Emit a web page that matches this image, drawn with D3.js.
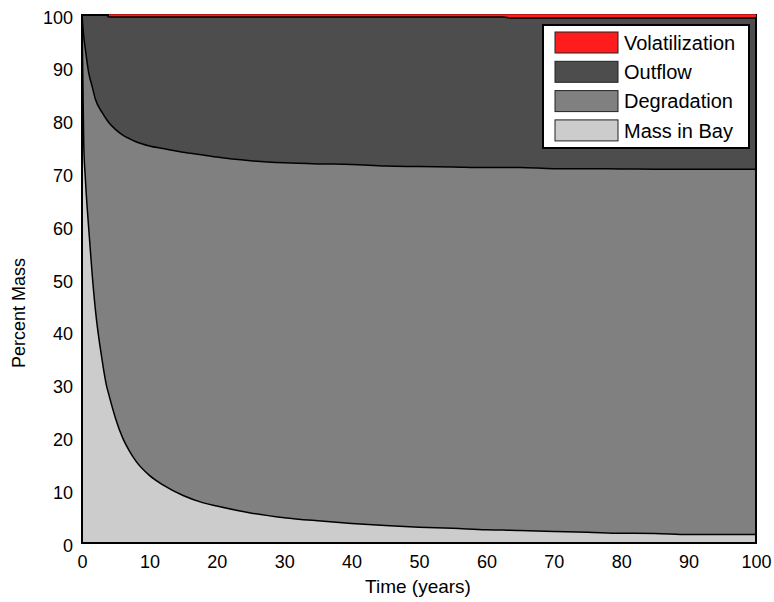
<!DOCTYPE html>
<html>
<head>
<meta charset="utf-8">
<script src="https://cdn.jsdelivr.net/npm/d3@7"></script>
<style>
  html, body { margin: 0; padding: 0; background: #fff; }
  text { font-family: "Liberation Sans", Arial, sans-serif; fill: #000; }
</style>
</head>
<body>
<svg id="chart" width="774" height="602"></svg>
<script>
// ---- data (percent of mass) ----
const years = [0, 0.25, 0.5, 1, 1.5, 2, 3, 3.6, 4, 5, 6, 7, 8, 10, 12, 15, 18, 20, 25, 30, 35, 40, 45, 50, 55, 60, 62.5, 63.5, 65, 70, 75, 80, 85, 90, 95, 100];
const massInBay = [100, 76, 69, 59.5, 51, 44, 34.5, 30, 28, 23.5, 20, 17.5, 15.5, 12.8, 11, 9, 7.6, 7, 5.7, 4.8, 4.2, 3.7, 3.3, 3.0, 2.8, 2.5, 2.45, 2.4, 2.35, 2.2, 2.05, 1.85, 1.8, 1.6, 1.6, 1.6];
const degradation = [0, 20, 24.5, 29.5, 35.5, 40, 47, 50.3, 51.6, 54.8, 57.3, 59.1, 60.5, 62.4, 63.7, 65, 65.9, 66.1, 66.7, 67.2, 67.6, 68.0, 68.1, 68.3, 68.4, 68.6, 68.65, 68.7, 68.75, 68.7, 68.85, 69.0, 69.0, 69.2, 69.2, 69.2];
const outflow = [0, 4, 6.5, 11, 13.5, 16, 18.5, 19.7, 20.0, 21.3, 22.3, 23.0, 23.6, 24.4, 24.9, 25.6, 26.1, 26.5, 27.2, 27.6, 27.8, 27.9, 28.2, 28.3, 28.4, 28.5, 28.5, 28.35, 28.35, 28.55, 28.55, 28.6, 28.65, 28.65, 28.65, 28.65];
const volatilization = [0, 0, 0, 0, 0, 0, 0, 0, 0.4, 0.4, 0.4, 0.4, 0.4, 0.4, 0.4, 0.4, 0.4, 0.4, 0.4, 0.4, 0.4, 0.4, 0.4, 0.4, 0.4, 0.4, 0.4, 0.55, 0.55, 0.55, 0.55, 0.55, 0.55, 0.55, 0.55, 0.55];
const seriesNames = ["Mass in Bay", "Degradation", "Outflow", "Volatilization"];
const legendOrder = ["Volatilization", "Outflow", "Degradation", "Mass in Bay"];
const xTicks = [0, 10, 20, 30, 40, 50, 60, 70, 80, 90, 100];
const yTicks = [0, 10, 20, 30, 40, 50, 60, 70, 80, 90, 100];
const xTitle = "Time (years)";
const yTitle = "Percent Mass";

const colors = {
  "Volatilization": "#ff1c1c",
  "Outflow": "#4d4d4d",
  "Degradation": "#808080",
  "Mass in Bay": "#cccccc"
};

const rows = years.map((t, i) => ({
  t,
  "Mass in Bay": massInBay[i],
  "Degradation": degradation[i],
  "Outflow": outflow[i],
  "Volatilization": volatilization[i]
}));

const svg = d3.select("#chart");
const L = 82, R = 756, T = 15, B = 543;
const x = d3.scaleLinear().domain([0, 100]).range([L, R]);
const y = d3.scaleLinear().domain([0, 100]).range([B, T]);

const stack = d3.stack().keys(seriesNames);
const layers = stack(rows);

const curve = d3.curveMonotoneX;
const area = d3.area()
  .x(d => x(d.data.t))
  .y0(d => y(d[0]))
  .y1(d => y(Math.min(100, d[1])))
  .curve(curve);
const topLine = d3.line()
  .x(d => x(d.data.t))
  .y(d => y(Math.min(100, d[1])))
  .curve(curve);

const g = svg.append("g");
g.selectAll("path.area")
  .data(layers.filter(l => l.key !== "Volatilization"))
  .join("path")
  .attr("class", "area")
  .attr("fill", d => colors[d.key])
  .attr("d", area);

// frame
svg.append("rect")
  .attr("x", L).attr("y", T)
  .attr("width", R - L).attr("height", B - T)
  .attr("fill", "none").attr("stroke", "#000").attr("stroke-width", 2);

// volatilization band drawn over the top frame edge
const volLayer = layers.find(l => l.key === "Volatilization");
const volArea = d3.area()
  .x(d => x(d.data.t))
  .y0(d => y(d[0]))
  .y1(d => d[1] - d[0] > 0 ? y(100) - 0.7 : y(d[0]))
  .curve(d3.curveStepAfter);
svg.append("path")
  .datum(volLayer)
  .attr("fill", colors["Volatilization"])
  .attr("d", volArea);

svg.selectAll("path.edge")
  .data(layers.filter(l => l.key !== "Volatilization"))
  .join("path")
  .attr("class", "edge")
  .attr("fill", "none")
  .attr("stroke", "#000")
  .attr("stroke-width", 1.5)
  .attr("d", topLine);

// axes (labels only)
const fs = 18;
const xAxis = d3.axisBottom(x).tickValues(xTicks).tickSize(0).tickPadding(8).tickFormat(d3.format("d"));
const xg = svg.append("g").attr("transform", `translate(0,${B})`).call(xAxis);
xg.select(".domain").remove();
xg.selectAll("text").attr("font-size", fs).attr("font-family", "Liberation Sans, Arial, sans-serif").attr("dy", "0.92em");

const yAxis = d3.axisLeft(y).tickValues(yTicks).tickSize(0).tickPadding(9).tickFormat(d3.format("d"));
const yg = svg.append("g").attr("transform", `translate(${L},0)`).call(yAxis);
yg.select(".domain").remove();
yg.selectAll("text").attr("font-size", fs).attr("font-family", "Liberation Sans, Arial, sans-serif").attr("dy", "0.45em");

svg.append("text")
  .attr("x", 418).attr("y", 593)
  .attr("text-anchor", "middle").attr("font-size", 19)
  .text(xTitle);
svg.append("text")
  .attr("transform", `translate(25,313) rotate(-90)`)
  .attr("text-anchor", "middle").attr("font-size", 18)
  .text(yTitle);

// legend
const lg = svg.append("g");
lg.append("rect")
  .attr("x", 543).attr("y", 25).attr("width", 206).attr("height", 123)
  .attr("fill", "#fff").attr("stroke", "#000").attr("stroke-width", 2);
const items = lg.selectAll("g.item").data(legendOrder).join("g")
  .attr("class", "item")
  .attr("transform", (d, i) => `translate(555,${32 + i * 29.3})`);
items.append("rect")
  .attr("width", 63).attr("height", 21)
  .attr("fill", d => colors[d]).attr("stroke", "#222").attr("stroke-width", 1);
items.append("text")
  .attr("x", 69).attr("y", 10.5).attr("dy", "0.36em")
  .attr("font-size", 20)
  .text(d => d);
</script>
</body>
</html>
